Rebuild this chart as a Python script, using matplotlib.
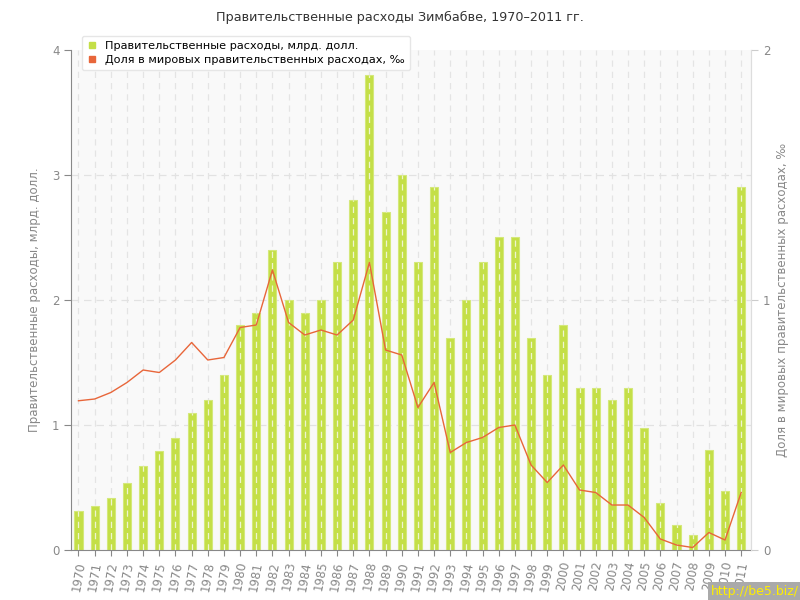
import matplotlib
matplotlib.use('Agg')
import matplotlib.pyplot as plt
import numpy as np

years = list(range(1970, 2012))
spending = [0.31, 0.35, 0.42, 0.54, 0.67, 0.79, 0.90, 1.10, 1.20, 1.40,
            1.80, 1.90, 2.40, 2.00, 1.90, 2.00, 2.30, 2.80, 3.80, 2.70,
            3.00, 2.30, 2.90, 1.70, 2.00, 2.30, 2.50, 2.50, 1.70, 1.40,
            1.80, 1.30, 1.30, 1.20, 1.30, 0.98, 0.38, 0.20, 0.12, 0.80,
            0.47, 2.90]
share = [0.597, 0.604, 0.63, 0.67, 0.72, 0.71, 0.76, 0.83, 0.76, 0.77,
         0.89, 0.90, 1.12, 0.91, 0.86, 0.88, 0.86, 0.92, 1.15, 0.80,
         0.78, 0.57, 0.67, 0.39, 0.43, 0.45, 0.49, 0.50, 0.34, 0.27,
         0.34, 0.24, 0.23, 0.18, 0.18, 0.13, 0.044, 0.02, 0.01, 0.07,
         0.04, 0.23]

title = 'Правительственные расходы Зимбабве, 1970–2011 гг.'
label_left = 'Правительственные расходы, млрд. долл.'
label_right = 'Доля в мировых правительственных расходах, ‰'

grey = '#888888'
bar_color = '#c4df47'
line_color = '#e8663a'

fig = plt.figure(figsize=(8, 6), dpi=100)
ax = fig.add_axes([0.089, 0.0833, 0.85, 0.8334])
ax.set_facecolor('#f9f9f9')

ax.bar(years, spending, width=0.5, color=bar_color, edgecolor='#d4e87a',
       linewidth=0.8, zorder=2)
# dashed vertical grid, shows through the bars as a light dashed line
for i, y in enumerate(years):
    ax.axvline(y, color='#e4e4e4', linestyle=(0, (5, 4)), linewidth=0.9, zorder=1)
    ax.axvline(y, ymin=0, ymax=spending[i] / 4, color='#eef5d0',
               linestyle=(0, (5, 4)), linewidth=0.9, zorder=3)
for v in [1, 2, 3]:
    ax.axhline(v, color='#e2e2e2', linestyle=(0, (6, 4)), linewidth=0.9, zorder=1)

ax.set_xlim(1970 - 0.45, 2011 + 0.62)
ax.set_ylim(0, 4)
ax.set_yticks([0, 1, 2, 3, 4])
ax.set_xticks(years)
ax.set_xticklabels([str(y) for y in years], rotation=80, fontsize=8.5, color=grey)
ax.tick_params(axis='y', colors=grey, labelcolor=grey, labelsize=8.5, length=5)
ax.tick_params(axis='x', colors=grey, length=4)
ax.set_ylabel(label_left, color=grey, fontsize=8.5, labelpad=8)
ax.spines['top'].set_visible(False)
ax.spines['left'].set_color(grey)
ax.spines['bottom'].set_color(grey)
ax.spines['right'].set_color('#dddddd')

ax2 = ax.twinx()
ax2.plot(years, share, color=line_color, linewidth=1, zorder=4)
ax2.set_ylim(0, 2)
ax2.set_yticks([0, 1, 2])
ax2.tick_params(axis='y', colors='#cccccc', labelcolor=grey, labelsize=8.5, length=5)
ax2.set_ylabel(label_right, color=grey, fontsize=8.5, labelpad=4)
ax2.spines['top'].set_visible(False)
ax2.spines['left'].set_visible(False)
ax2.spines['bottom'].set_visible(False)
ax2.spines['right'].set_color('#dddddd')

fig.text(0.5, 0.971, title, ha='center', va='center', fontsize=9.2, color='#333333')

h1 = plt.Line2D([], [], marker='s', color='none', markerfacecolor=bar_color,
                markeredgecolor=bar_color, markersize=5)
h2 = plt.Line2D([], [], marker='s', color='none', markerfacecolor=line_color,
                markeredgecolor=line_color, markersize=5)
leg = ax2.legend([h1, h2], [label_left, label_right], loc='upper left',
                 bbox_to_anchor=(82 / 800, 1 - 36 / 600),
                 bbox_transform=fig.transFigure, borderaxespad=0,
                 fontsize=8.1, frameon=True, fancybox=True, shadow=False,
                 handlelength=0.8, handletextpad=0.8, borderpad=0.45,
                 labelspacing=0.35)
leg.get_frame().set_edgecolor('#e6e6e6')
leg.get_frame().set_facecolor('white')
leg.get_frame().set_alpha(1)
leg.set_zorder(10)

fig.text(0.999, 0.003, 'http://be5.biz/', ha='right', va='bottom', fontsize=9,
         color='#ffee00', bbox=dict(facecolor='#aaaaaa', edgecolor='none', pad=2))

fig.savefig('out.png', dpi=100)
